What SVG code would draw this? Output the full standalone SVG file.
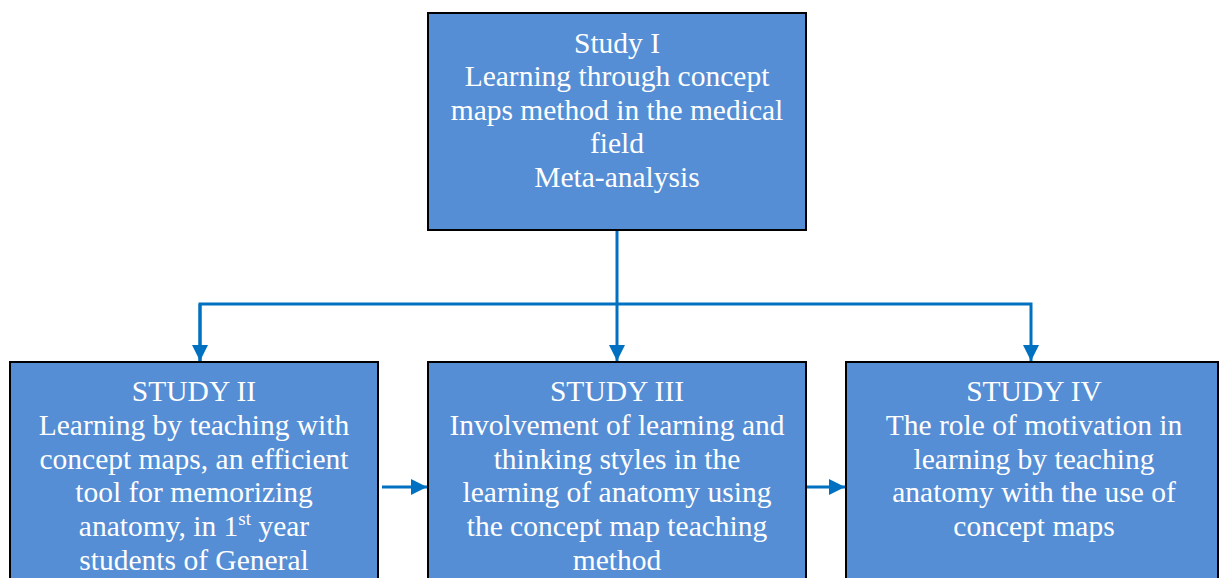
<svg xmlns="http://www.w3.org/2000/svg" width="1219" height="578" viewBox="0 0 1219 578">
<style>
.box{fill:#558ED5;stroke:#000;stroke-width:2}
.t{font-family:"Liberation Serif","Times New Roman",serif;font-size:29.5px;fill:#fff;text-anchor:middle}
.c{fill:none;stroke:#0070C0;stroke-width:3}
</style>
<defs>
<marker id="ah" markerWidth="5.4" markerHeight="5.4" refX="5.4" refY="2.7" orient="auto" markerUnits="strokeWidth">
<path d="M0,0 L5.4,2.7 L0,5.4 Z" fill="#0070C0"/>
</marker>
</defs>
<rect width="1219" height="578" fill="#fff"/>
<g id="connectors">
<line class="c" x1="617" y1="231" x2="617" y2="361" marker-end="url(#ah)"/>
<polyline class="c" points="200,361 200,304 1031,304 1031,361" marker-end="url(#ah)"/>
<line class="c" x1="200" y1="304" x2="200" y2="361" marker-end="url(#ah)"/>
<line class="c" x1="382" y1="487" x2="427" y2="487" marker-end="url(#ah)"/>
<line class="c" x1="806" y1="487" x2="845" y2="487" marker-end="url(#ah)"/>
</g>
<g id="study1">
<rect class="box" x="428" y="13" width="378" height="217"/>
<text class="t" x="617" y="52.5">Study I</text>
<text class="t" x="617" y="86">Learning through concept</text>
<text class="t" x="617" y="119.5">maps method in the medical</text>
<text class="t" x="617" y="153">field</text>
<text class="t" x="617" y="186.5">Meta-analysis</text>
</g>
<g id="study2">
<rect class="box" x="10" y="362" width="368" height="230"/>
<text class="t" x="194" y="400.5">STUDY II</text>
<text class="t" x="194" y="434.5">Learning by teaching with</text>
<text class="t" x="194" y="468.5">concept maps, an efficient</text>
<text class="t" x="194" y="501.5">tool for memorizing</text>
<text class="t" x="194" y="535.5">anatomy, in 1<tspan font-size="19" dy="-11">st</tspan><tspan dy="11"> year</tspan></text>
<text class="t" x="194" y="569.5">students of General</text>
</g>
<g id="study3">
<rect class="box" x="428" y="362" width="378" height="230"/>
<text class="t" x="617" y="400.5">STUDY III</text>
<text class="t" x="617" y="434.5">Involvement of learning and</text>
<text class="t" x="617" y="468.5">thinking styles in the</text>
<text class="t" x="617" y="501.5">learning of anatomy using</text>
<text class="t" x="617" y="535.5">the concept map teaching</text>
<text class="t" x="617" y="569.5">method</text>
</g>
<g id="study4">
<rect class="box" x="846" y="362" width="372" height="230"/>
<text class="t" x="1034" y="400.5">STUDY IV</text>
<text class="t" x="1034" y="434.5">The role of motivation in</text>
<text class="t" x="1034" y="468.5">learning by teaching</text>
<text class="t" x="1034" y="501.5">anatomy with the use of</text>
<text class="t" x="1034" y="535.5">concept maps</text>
</g>
</svg>
